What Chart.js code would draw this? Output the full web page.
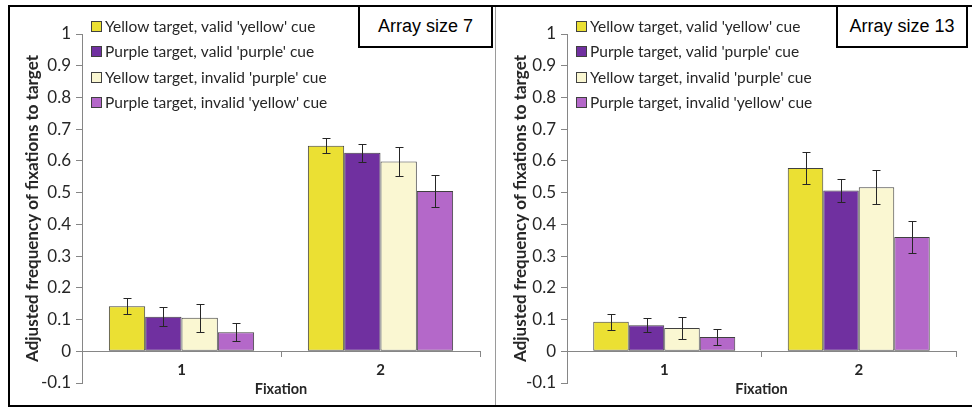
<!DOCTYPE html>
<html>
<head>
<meta charset="utf-8">
<title>Adjusted frequency of fixations to target</title>
<script src="https://cdn.jsdelivr.net/npm/chart.js"></script>
<style>
  body { margin: 0; background: #fff; width: 972px; height: 411px; position: relative; overflow: hidden; }
  .frame { position: absolute; left: 8px; top: 5px; width: 970px; height: 398px; border: 2px solid #000; border-right: none; }
  .divider { position: absolute; left: 495px; top: 7px; width: 1px; height: 398px; background: #9a9a9a; }
  canvas { position: absolute; top: 7px; }
  #chart7 { left: 8px; }
  #chart13 { left: 497px; }
  .sizeBox { position: absolute; top: 5px; height: 39px; border: 2px solid #000; background: #fff;
             font: 18px "Liberation Sans", Arial, sans-serif; color: #000; text-align: center; line-height: 39px; }
</style>
</head>
<body>
<div class="frame"></div>
<div class="divider"></div>
<canvas id="chart7" width="488" height="398"></canvas>
<canvas id="chart13" width="475" height="398"></canvas>
<div class="sizeBox" style="left:358px; width:131px;">Array size 7</div>
<div class="sizeBox" style="left:836px; width:128px;">Array size 13</div>

<script>
// categories and series
const fixations = ['1', '2'];
const seriesNames = [
    "Yellow target, valid 'yellow' cue",
    "Purple target, valid 'purple' cue",
    "Yellow target, invalid 'purple' cue",
    "Purple target, invalid 'yellow' cue"
];
const seriesColors = ['#ebe033', '#7030a0', '#faf7d2', '#b468c9'];

// array size 7: means and error bar half-widths
const size7Values = [
    [0.142, 0.648],
    [0.109, 0.626],
    [0.106, 0.598],
    [0.060, 0.505]
];
const size7Errors = [
    [0.025, 0.024],
    [0.030, 0.028],
    [0.044, 0.045],
    [0.028, 0.050]
];

// array size 13
const size13Values = [
    [0.093, 0.578],
    [0.082, 0.507],
    [0.073, 0.517],
    [0.045, 0.360]
];
const size13Errors = [
    [0.025, 0.051],
    [0.022, 0.035],
    [0.034, 0.053],
    [0.024, 0.051]
];

// y axis range
const yMin = -0.1;
const yMax = 1;
const yStep = 0.1;

const textColor = '#262626';
const axisColor = '#868686';

// error bars drawn over the bars
const errorBars = {
    id: 'errorBars',
    afterDatasetsDraw(chart) {
        const ctx = chart.ctx;
        const y = chart.scales.y;
        ctx.save();
        ctx.strokeStyle = '#262626';
        ctx.lineWidth = 1;
        chart.data.datasets.forEach((ds, i) => {
            chart.getDatasetMeta(i).data.forEach((bar, j) => {
                const v = ds.data[j];
                const e = ds.errors[j];
                const top = Math.round(y.getPixelForValue(v + e)) + 0.5;
                const bot = Math.round(y.getPixelForValue(v - e)) + 0.5;
                const x = Math.round(bar.x) + 0.5;
                ctx.beginPath();
                ctx.moveTo(x, top); ctx.lineTo(x, bot);
                ctx.moveTo(x - 4, top); ctx.lineTo(x + 4, top);
                ctx.moveTo(x - 4, bot); ctx.lineTo(x + 4, bot);
                ctx.stroke();
            });
        });
        ctx.restore();
    }
};

// legend inside the plot area, top left
const boxLegend = {
    id: 'boxLegend',
    afterDraw(chart) {
        const ctx = chart.ctx;
        const a = chart.chartArea;
        ctx.save();
        ctx.font = '15.5px Lato';
        ctx.textBaseline = 'middle';
        ctx.lineWidth = 1;
        chart.data.datasets.forEach((ds, i) => {
            const y = Math.round(a.top - 8 + i * 25.3);
            const x = Math.round(a.left) + 9;
            ctx.fillStyle = ds.backgroundColor;
            ctx.fillRect(x, y - 5, 11, 11);
            ctx.strokeStyle = '#404040';
            ctx.strokeRect(x + 0.5, y - 4.5, 10, 10);
            ctx.fillStyle = textColor;
            ctx.fillText(ds.label, x + 14, y + 1);
        });
        ctx.restore();
    }
};

function makePanel(id, values, errors, padLeft, titlePad) {
    const datasets = seriesNames.map((name, i) => ({
        label: name,
        data: values[i],
        errors: errors[i],
        backgroundColor: seriesColors[i],
        borderColor: '#404040',
        borderWidth: 1,
        borderSkipped: false
    }));

    return new Chart(document.getElementById(id), {
        type: 'bar',
        data: { labels: fixations, datasets: datasets },
        options: {
            responsive: false,
            animation: false,
            categoryPercentage: 0.73,
            barPercentage: 1,
            layout: { padding: { left: padLeft, right: 16, top: 27, bottom: 22 } },
            plugins: {
                legend: { display: false },
                tooltip: { enabled: false }
            },
            scales: {
                x: {
                    position: { y: 0 },
                    grid: { drawOnChartArea: false, offset: true, tickLength: 5, color: axisColor },
                    border: { color: axisColor },
                    ticks: { color: textColor, padding: 5, font: { family: 'Lato', size: 15, weight: 'bold' } },
                    title: {
                        display: true, text: 'Fixation', color: textColor,
                        padding: { top: -4, bottom: 0 },
                        font: { family: 'Lato', size: 14.5, weight: 'bold' }
                    }
                },
                y: {
                    min: yMin,
                    max: yMax,
                    afterFit(scale) { scale.width = 60; },
                    grid: { drawOnChartArea: false, tickLength: 6, color: axisColor },
                    border: { color: axisColor },
                    ticks: {
                        stepSize: yStep, color: textColor, padding: 5,
                        font: { family: 'Lato', size: 17 },
                        callback: (v) => String(+v.toFixed(1))
                    },
                    title: {
                        display: true, text: 'Adjusted frequency of fixations to target', color: textColor,
                        padding: { top: titlePad, bottom: 0 },
                        font: { family: 'Lato', size: 17, weight: 'bold' }
                    }
                }
            }
        },
        plugins: [errorBars, boxLegend]
    });
}

makePanel('chart7', size7Values, size7Errors, 14, 0);
makePanel('chart13', size13Values, size13Errors, 10, 3);
</script>
</body>
</html>
